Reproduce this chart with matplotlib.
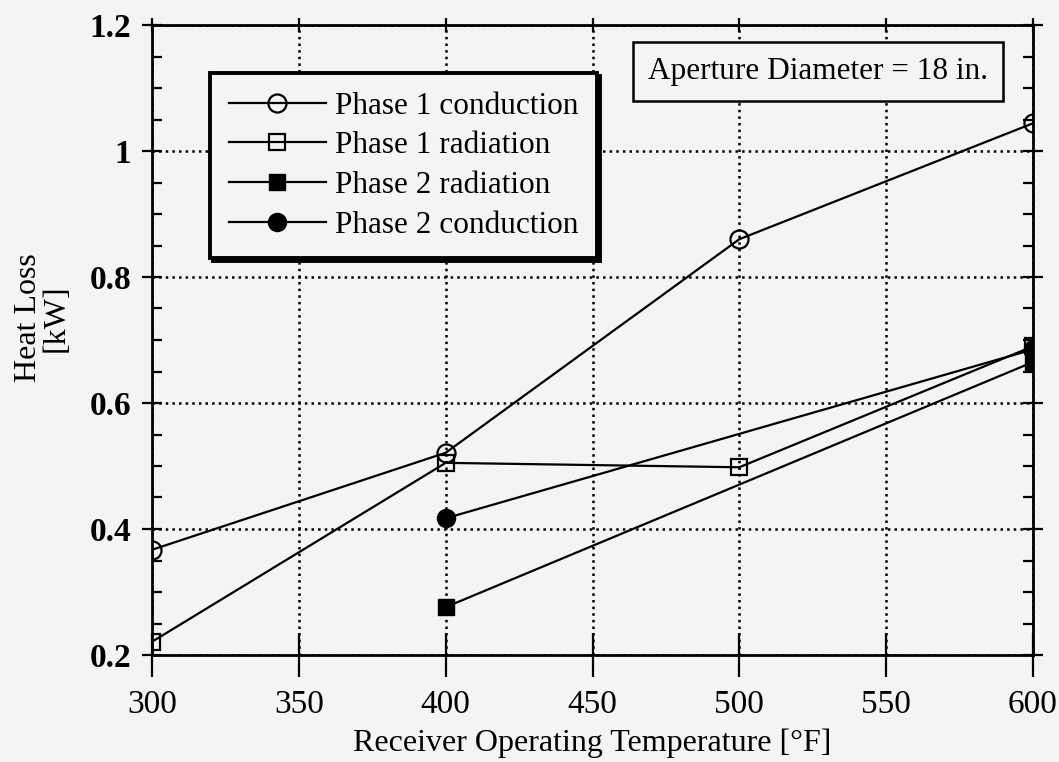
import matplotlib.pyplot as plt
from matplotlib.ticker import MultipleLocator

# heat loss vs receiver temperature
p1_cond_t = [300, 400, 500, 600]
p1_cond_q = [0.367, 0.521, 0.860, 1.044]

p1_rad_t = [300, 400, 500, 600]
p1_rad_q = [0.221, 0.505, 0.498, 0.69]

p2_rad_t = [400, 600]
p2_rad_q = [0.276, 0.665]

p2_cond_t = [400, 600]
p2_cond_q = [0.417, 0.685]

plt.rcParams['font.family'] = ['Liberation Serif', 'DejaVu Serif']
bg = '#f4f4f4'
W, H = 1059, 762

fig = plt.figure(figsize=(W / 100, H / 100), dpi=100, facecolor=bg)
ax = fig.add_axes([152 / W, 1 - 655 / H, 881 / W, 630 / H], facecolor=bg)

kw = dict(color='black', lw=1.6)
ax.plot(p1_cond_t, p1_cond_q, marker='o', ms=13, mfc='none', mec='black', mew=1.6,
        label='Phase 1 conduction', **kw)
ax.plot(p1_rad_t, p1_rad_q, marker='s', ms=12, mfc='none', mec='black', mew=1.6,
        label='Phase 1 radiation', **kw)
ax.plot(p2_rad_t, p2_rad_q, marker='s', ms=12, mfc='black', mec='black',
        label='Phase 2 radiation', **kw)
ax.plot(p2_cond_t, p2_cond_q, marker='o', ms=13, mfc='black', mec='black',
        label='Phase 2 conduction', **kw)

ax.set_xlim(300, 600)
ax.set_ylim(0.2, 1.2)
ax.set_xticks([300, 350, 400, 450, 500, 550, 600])
ax.set_yticks([0.2, 0.4, 0.6, 0.8, 1.0, 1.2])
ax.set_yticklabels(['0.2', '0.4', '0.6', '0.8', '1', '1.2'])
ax.yaxis.set_minor_locator(MultipleLocator(0.05))

ax.grid(True, which='major', linestyle=':', color='black', lw=1.8)
ax.tick_params(which='both', direction='in', top=True, right=True, width=1.6)
ax.tick_params(axis='y', which='major', direction='inout', length=14, labelsize=24, pad=8)
ax.tick_params(axis='y', which='minor', length=7)
ax.tick_params(axis='x', which='major', direction='inout', length=32, pad=9, labelsize=24)
# shorter ticks along the top edge
for t in ax.xaxis.get_major_ticks():
    t.tick2line.set_markersize(10)
for lab in ax.get_yticklabels():
    lab.set_fontweight('bold')
for s in ax.spines.values():
    s.set_linewidth(2)

ax.set_xlabel('Receiver Operating Temperature [°F]', fontsize=23, labelpad=6)
fig.text(42 / W, 1 - 318 / H, 'Heat Loss\n[kW]', rotation=90, ha='center', va='center',
         multialignment='center', fontsize=23, linespacing=0.95)

leg = ax.legend(loc='upper left', bbox_to_anchor=((210 - 152) / 881, (655 - 73) / 630),
                borderaxespad=0, fontsize=22.5, handlelength=3.1, handletextpad=0.3,
                labelspacing=0.34, borderpad=0.6,
                fancybox=False, framealpha=1, edgecolor='black',
                shadow={'color': 'black', 'alpha': 1.0})
leg.get_frame().set_facecolor(bg)
leg.get_frame().set_linewidth(2.8)

ax.text((818 - 152) / 881, (655 - 71) / 630, 'Aperture Diameter = 18 in.',
        transform=ax.transAxes, ha='center', va='center', fontsize=22.5,
        bbox=dict(boxstyle='square,pad=0.48', facecolor=bg, edgecolor='black', lw=1.8))

fig.savefig('out.png', dpi=100, facecolor=bg)
